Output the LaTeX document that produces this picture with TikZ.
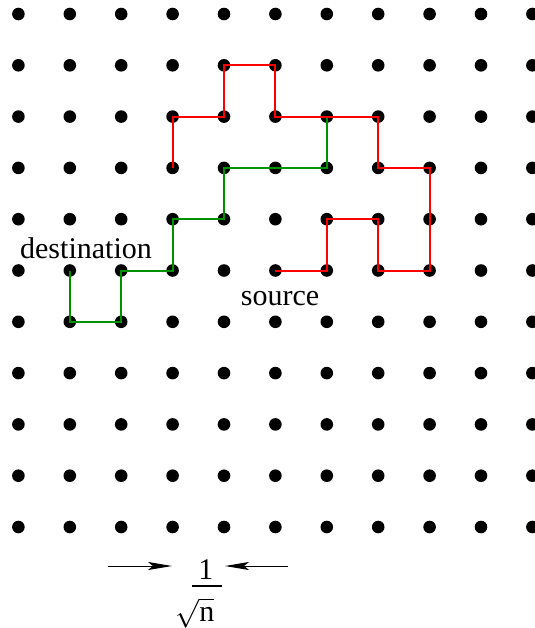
\documentclass[tikz,border=0pt]{standalone}
\usepackage{fontspec}
\setmainfont{Liberation Serif}
\usetikzlibrary{arrows.meta}
\definecolor{walkred}{HTML}{FF0000}
\definecolor{walkgreen}{HTML}{009000}

\begin{document}
\begin{tikzpicture}[
  x=0.5pt, y=-0.5pt,
  dot/.style={fill=black},
  walk/.style={line width=1pt, line join=miter},
  redwalk/.style={walk, draw=walkred},
  greenwalk/.style={walk, draw=walkgreen},
  lbl/.style={font=\fontsize{15}{18}\selectfont, inner sep=0pt},
  arr/.style={-{Stealth[length=12pt, width=4pt, inset=2.5pt]}, line width=0.5pt}
]
\useasboundingbox (0,0) rectangle (535,628);
\foreach \i in {0,...,10}{
  \foreach \j in {0,...,10}{
    \coordinate (p\i-\j) at (18.4+51.4*\i, 14+51.3*\j);
    \fill[dot] (p\i-\j) circle (3.15pt);
  }
}
\draw[greenwalk] (p6-2) -- (p6-3) -- (p4-3) -- (p4-4) -- (p3-4) -- (p3-5) -- (p2-5) -- (p2-6) -- (p1-6) -- (p1-5);
\draw[redwalk] (p5-5) -- (p6-5) -- (p6-4) -- (p7-4) -- (p7-5) -- (p8-5) -- (p8-3) -- (p7-3) -- (p7-2)
  -- (p5-2) -- (p5-1) -- (p4-1) -- (p4-2) -- (p3-2) -- (p3-3);
\node[lbl, anchor=base] (dest) at (86,258) {destination};
\node[lbl, anchor=base] (src) at (280,305) {source};
\node[lbl, anchor=base] (one) at (206,579) {1};
\node[lbl, anchor=base] (rootn) at (195,621.7) {$\sqrt{\mathrm{n}}$};
\draw[line width=0.6pt] (192,586) -- (222,586);
\coordinate (la) at (108,566);
\coordinate (lb) at (172,566);
\coordinate (ra) at (288,566);
\coordinate (rb) at (225,566);
\draw[arr] (la) -- (lb);
\draw[arr] (ra) -- (rb);
\end{tikzpicture}
\end{document}
